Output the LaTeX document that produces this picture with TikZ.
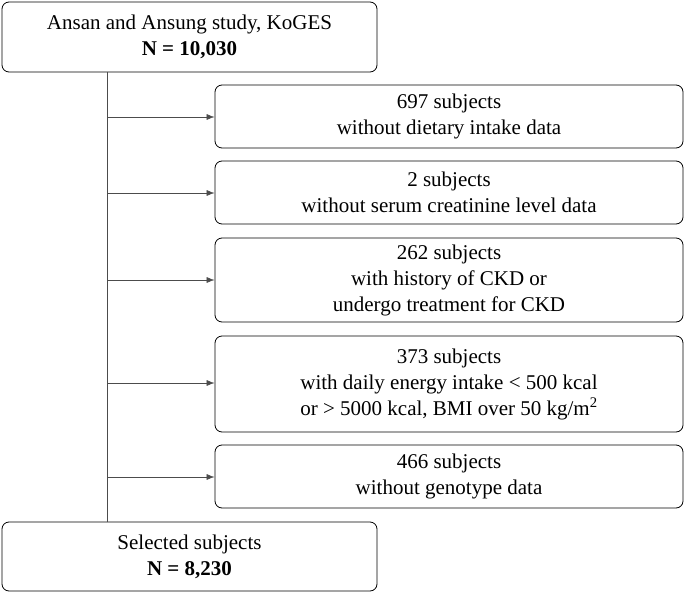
\documentclass[tikz,border=0pt]{standalone}
\usepackage{fontspec}
\setmainfont{Liberation Serif}
\usetikzlibrary{arrows.meta}
\begin{document}
\begin{tikzpicture}[x=1pt,y=-1pt,
 bx/.style={draw,line width=0.8pt,rounded corners=7pt,align=center,font=\fontsize{21}{26}\selectfont,inner sep=0pt},
 arr/.style={-{Latex[length=8pt,width=6pt]},line width=0.6pt,draw=black!70}]
\useasboundingbox (0,0) rectangle (685,594);
\node[bx,minimum width=375pt,minimum height=70pt] (top) at (189.5,37) {Ansan and Ansung study, KoGES\\\textbf{N = 10,030}};
\node[bx,minimum width=375pt,minimum height=69pt] (bot) at (189.5,556.5) {Selected subjects\\\textbf{N = 8,230}};
\node[bx,minimum width=468pt,minimum height=63pt] (b1) at (449,116.5) {697 subjects\\without dietary intake data};
\node[bx,minimum width=468pt,minimum height=63pt] (b2) at (449,192.5) {2 subjects\\without serum creatinine level data};
\node[bx,minimum width=468pt,minimum height=84pt] (b3) at (449,280) {262 subjects\\with history of CKD or\\undergo treatment for CKD};
\node[bx,minimum width=468pt,minimum height=96pt] (b4) at (449,384) {373 subjects\\with daily energy intake < 500 kcal\\or > 5000 kcal, BMI over 50 kg/m\textsuperscript{2}};
\node[bx,minimum width=468pt,minimum height=63pt] (b5) at (449,476.5) {466 subjects\\without genotype data};
\coordinate (vt) at (107,72);
\coordinate (vb) at (107,522);
\draw[line width=0.6pt,draw=black!70] (vt) -- (vb);
\foreach \b/\yy in {b1/117,b2/193,b3/280,b4/383,b5/477}{
 \coordinate (s\b) at (107,\yy);
 \draw[arr] (s\b) -- (\b.west |- s\b);
}
\end{tikzpicture}
\end{document}
